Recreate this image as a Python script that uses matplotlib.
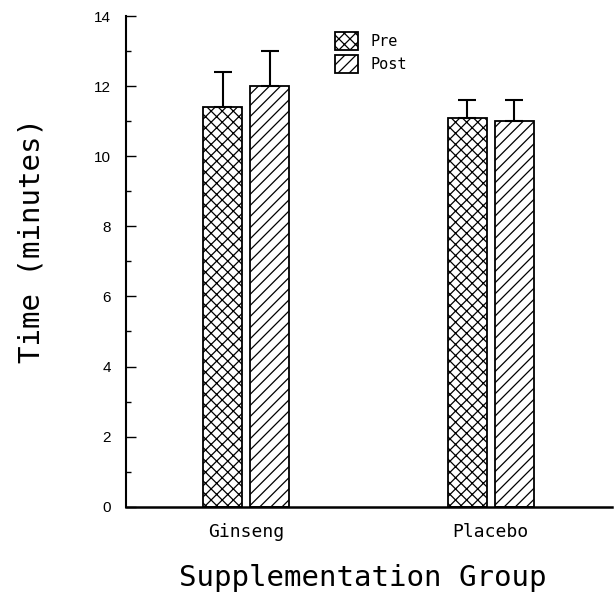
import matplotlib
matplotlib.use("Agg")
import matplotlib.pyplot as plt
import numpy as np

groups = ["Ginseng", "Placebo"]
series = ["Pre", "Post"]
pre_mean = [11.4, 11.1]
pre_err = [1.0, 0.5]
post_mean = [12.0, 11.0]
post_err = [1.0, 0.6]
yticks = [0, 2, 4, 6, 8, 10, 12, 14]

plt.rcParams['hatch.linewidth'] = 0.9
plt.rcParams['ytick.direction'] = 'in'

fig = plt.figure(figsize=(6.14, 6.0), dpi=100)
ax = fig.add_axes([126/614, 93.3/600, 486/614, 490.7/600])

x = np.arange(len(groups))
w = 0.16
off = 0.096
ax.bar(x - off, pre_mean, w, yerr=[np.zeros(len(pre_err)), pre_err],
       color='white', edgecolor='black', linewidth=1.3, hatch='xxx',
       label=series[0], capsize=6.5,
       error_kw=dict(elinewidth=1.5, capthick=1.5, ecolor='black'))
ax.bar(x + off, post_mean, w, yerr=[np.zeros(len(post_err)), post_err],
       color='white', edgecolor='black', linewidth=1.3, hatch='///',
       label=series[1], capsize=6.5,
       error_kw=dict(elinewidth=1.5, capthick=1.5, ecolor='black'))

ax.set_xlim(-0.492, 1.496)
ax.set_ylim(0, 14)
ax.set_yticks(yticks)
ax.set_yticks(np.arange(1, 14, 2), minor=True)
ax.set_yticklabels([str(t) for t in yticks], fontfamily='Liberation Sans', fontsize=11)
ax.set_xticks(x)
ax.set_xticklabels(groups, fontfamily='DejaVu Sans Mono', fontsize=13)
ax.tick_params(axis='x', length=0, pad=12)

for s in ['top', 'right']:
    ax.spines[s].set_visible(False)
ax.spines['left'].set_linewidth(1.5)
ax.spines['bottom'].set_linewidth(1.8)

ax.set_xlabel("Supplementation Group", fontfamily='DejaVu Sans Mono', fontsize=21)
ax.set_ylabel("Time (minutes)", fontfamily='DejaVu Sans Mono', fontsize=21)

ax.xaxis.set_label_coords(363/614, 1 - 578/600, transform=fig.transFigure)
ax.xaxis.label.set_verticalalignment('center')
ax.yaxis.set_label_coords(32/614, 1 - 241/600, transform=fig.transFigure)
ax.yaxis.label.set_verticalalignment('center')

ax.tick_params(axis='y', which='major', direction='in', length=7.2, width=1, pad=11)
ax.tick_params(axis='y', which='minor', direction='in', length=3.6, width=1)

leg = ax.legend(loc='upper left', bbox_to_anchor=(335/614, 1 - 32/600),
                bbox_transform=fig.transFigure, frameon=False,
                prop={'family': 'DejaVu Sans Mono', 'size': 11},
                handlelength=1.5, handleheight=1.45, handletextpad=0.8,
                labelspacing=0.3, borderpad=0, borderaxespad=0)

fig.savefig("out.png", dpi=100)
